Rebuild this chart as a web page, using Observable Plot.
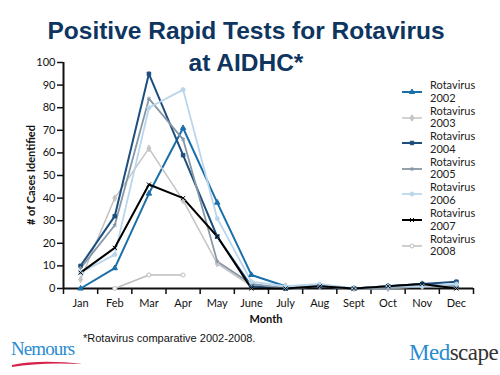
<!DOCTYPE html>
<html>
<head>
<meta charset="utf-8">
<script src="https://cdn.jsdelivr.net/npm/d3@7"></script>
<script src="https://cdn.jsdelivr.net/npm/@observablehq/plot@0.6"></script>
<style>
  html, body { margin: 0; padding: 0; background: #fff; }
  #wrap { position: relative; width: 500px; height: 375px; overflow: hidden; background: #fff; }
  #wrap svg.chart { position: absolute; left: 0; top: 0; }
  .abs { position: absolute; white-space: nowrap; }
  .title { font-family: "Liberation Sans", Arial, sans-serif; font-weight: bold; font-size: 24.5px; color: #0e3560; text-align: center; width: 500px; left: -4px; line-height: 31.5px; top: 15px; }
  .ylab { font-family: Lato, sans-serif; font-weight: bold; font-size: 11px; color: #111; transform: translate(-50%, -50%) rotate(-90deg); left: 30px; top: 175px; }
  .xlab { font-family: Lato, sans-serif; font-weight: bold; font-size: 11px; color: #111; transform: translate(-50%, -50%); left: 266px; top: 318px; }
  .foot { font-family: "Liberation Sans", Arial, sans-serif; font-size: 11px; color: #111; left: 83px; top: 332px; }
  .leg { font-family: Lato, sans-serif; font-size: 11px; color: #222; line-height: 12.5px; }
  .nem { font-family: "Liberation Serif", serif; font-size: 19px; color: #2a8bd0; left: 11px; top: 338px; letter-spacing: -0.9px; }
  .med { font-family: "Liberation Serif", serif; font-size: 23px; color: #333; left: 409px; top: 340px; letter-spacing: -0.5px; }
  .med span { color: #2a8bd0; }
</style>
</head>
<body>
<div id="wrap"></div>
<script>
// ---- Data ----
const months = ["Jan","Feb","Mar","Apr","May","June","July","Aug","Sept","Oct","Nov","Dec"];
const seriesNames = ["Rotavirus 2002","Rotavirus 2003","Rotavirus 2004","Rotavirus 2005","Rotavirus 2006","Rotavirus 2007","Rotavirus 2008"];
const values2002 = [0, 9, 42, 71, 38, 6, 1, 1, 0, 1, 2, 1];
const values2003 = [4, 40, 62, 39, 11, 1, 1, 1, 0, 0, 1, 1];
const values2004 = [10, 32, 95, 59, 23, 1, 0, 1, 0, 1, 2, 3];
const values2005 = [9, 28, 84, 66, 12, 2, 0, 1, 0, 0, 1, 1];
const values2006 = [7, 15, 80, 88, 31, 3, 1, 2, 0, 1, 1, 2];
const values2007 = [7, 18, 46, 40, 23, 0, 0, 1, 0, 1, 2, 0];
const values2008 = [null, 0, 6, 6, null, null, null, null, null, null, null, null];
const yTicks = [0,10,20,30,40,50,60,70,80,90,100];

// ---- Styles (kept separate from data) ----
const colors = ["#1b6fa8", "#c4c4c4", "#1c4e7e", "#8797a6", "#b9d6ec", "#000000", "#bdbdbd"];
const symbols = ["triangle", "diamond", "square", "asterisk", "circle", "times", "circle"];
const fills = ["#1b6fa8", "#c4c4c4", "#1c4e7e", "#8797a6", "#b9d6ec", "#000000", "#ffffff"];
const widths = [2, 1.5, 2, 1.8, 1.8, 2, 1.5];

const allValues = [values2002, values2003, values2004, values2005, values2006, values2007, values2008];
const rows = [];
seriesNames.forEach((name, s) => {
  allValues[s].forEach((v, i) => rows.push({series: name, month: months[i], value: v}));
});
const xi = d => months.indexOf(d.month);
const boundaries = d3.range(-0.5, months.length, 1);

const marks = [];
seriesNames.forEach((name, s) => {
  const data = rows.filter(d => d.series === name);
  marks.push(Plot.line(data, {x: xi, y: "value", stroke: colors[s], strokeWidth: widths[s]}));
});
seriesNames.forEach((name, s) => {
  const data = rows.filter(d => d.series === name && d.value != null);
  marks.push(Plot.dot(data, {x: xi, y: "value", symbol: () => symbols[s], r: 2, fill: fills[s], stroke: colors[s], strokeWidth: 1}));
});

const chart = Plot.plot({
  width: 500,
  height: 375,
  marginTop: 62,
  marginBottom: 87,
  marginLeft: 63,
  marginRight: 27,
  style: {fontFamily: "Lato, sans-serif", fontSize: "11px", color: "#111", background: "transparent"},
  x: {type: "linear", domain: [-0.5, months.length - 0.5]},
  y: {domain: [0, 100]},
  marks: [
    Plot.axisY({ticks: yTicks, tickSize: 6, tickPadding: 2, strokeWidth: 1.5, label: null, tickFormat: d => String(d)}),
    Plot.axisX({ticks: boundaries, tickSize: 6, strokeWidth: 1.5, label: null, tickFormat: () => ""}),
    Plot.axisX({ticks: d3.range(months.length), tickSize: 0, tickPadding: 11, label: null, tickFormat: i => months[i]}),
    Plot.ruleX([-0.5], {strokeWidth: 2}),
    Plot.ruleY([0], {strokeWidth: 2}),
    ...marks
  ]
});
chart.classList.add("chart");
const wrap = document.getElementById("wrap");
wrap.appendChild(chart);

function addDiv(cls, html, style) {
  const d = document.createElement("div");
  d.className = "abs " + cls;
  d.innerHTML = html;
  if (style) Object.assign(d.style, style);
  wrap.appendChild(d);
  return d;
}
addDiv("title", "Positive Rapid Tests for Rotavirus<br>at AIDHC*");
addDiv("ylab", "# of Cases Identified");
addDiv("xlab", "Month");
addDiv("foot", "*Rotavirus comparative 2002-2008.");
addDiv("nem", "Nemours");
addDiv("med", "<span>Med</span>scape");

// Nemours swoosh
const sw = d3.select(wrap).append("svg").attr("width", 80).attr("height", 14)
  .style("position", "absolute").style("left", "10px").style("top", "356px");
sw.append("path").attr("d", "M2,9 Q30,3 73,8 Q30,6 2,11 Z").attr("fill", "#d6234a");

// Legend
const legTop = 92, legStep = 25.6;
const symMap = {triangle: d3.symbolTriangle, diamond: d3.symbolDiamond, square: d3.symbolSquare, asterisk: d3.symbolAsterisk, circle: d3.symbolCircle, times: d3.symbolTimes};
seriesNames.forEach((name, s) => {
  const cy = legTop + s * legStep;
  const g = d3.select(wrap).append("svg").attr("width", 24).attr("height", 10)
    .style("position", "absolute").style("left", "400px").style("top", (cy - 5) + "px");
  g.append("line").attr("x1", 2).attr("x2", 22).attr("y1", 5).attr("y2", 5)
    .attr("stroke", colors[s]).attr("stroke-width", widths[s]);
  g.append("path").attr("transform", "translate(12,5)")
    .attr("d", d3.symbol(symMap[symbols[s]], 12)())
    .attr("fill", fills[s]).attr("stroke", colors[s]).attr("stroke-width", 1);
  const parts = name.split(" ");
  addDiv("leg", parts[0] + "<br>" + parts[1], {left: "430px", top: (cy - 13) + "px"});
});
</script>
</body>
</html>
